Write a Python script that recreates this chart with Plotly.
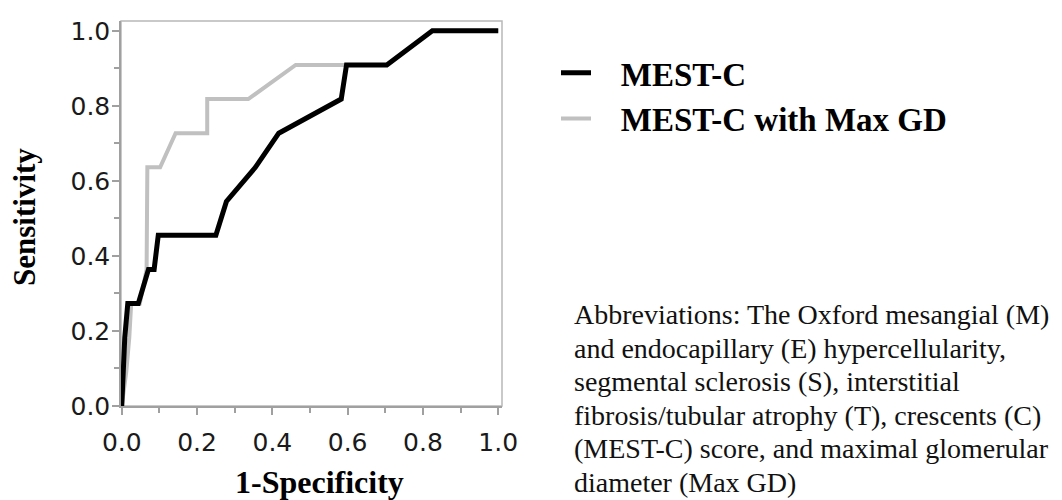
import plotly.graph_objects as go

# ---- data ----
fpr_mestc = [0, 0.003, 0.008, 0.016, 0.044, 0.071, 0.086, 0.097, 0.250, 0.278,
             0.355, 0.417, 0.583, 0.597, 0.704, 0.825, 1.0]
tpr_mestc = [0, 0.091, 0.182, 0.273, 0.273, 0.364, 0.364, 0.455, 0.455, 0.545,
             0.636, 0.727, 0.818, 0.909, 0.909, 1.0, 1.0]

fpr_gd = [0, 0.012, 0.020, 0.025, 0.048, 0.066, 0.068, 0.102, 0.143, 0.227,
          0.227, 0.336, 0.462, 0.600, 0.704, 0.825, 1.0]
tpr_gd = [0, 0.091, 0.182, 0.273, 0.273, 0.364, 0.636, 0.636, 0.727, 0.727,
          0.818, 0.818, 0.909, 0.909, 0.909, 1.0, 1.0]

series_names = ["MEST-C", "MEST-C with Max GD"]
x_title = "1-Specificity"
y_title = "Sensitivity"
abbrev_lines = [
    "Abbreviations: The Oxford mesangial (M)",
    "and endocapillary (E) hypercellularity,",
    "segmental sclerosis (S), interstitial",
    "fibrosis/tubular atrophy (T), crescents (C)",
    "(MEST-C) score, and maximal glomerular",
    "diameter (Max GD)",
]

# page body has an 8px margin, so the figure is drawn 8px smaller and offset
OFF = 8
W, H = 1062 - OFF, 500 - OFF
L, T = 121 - OFF, 17 - OFF
R = W - (502 - OFF)
B = H - (406 - OFF)
PW, PH = W - L - R, H - T - B


def px(xr):
    return (xr - OFF - L) / PW


def py(yr):
    return (H - B - (yr - OFF)) / PH


serif = "Liberation Serif"
sans = "DejaVu Sans"
axis_gray = "#a0a0a0"
GAP = "\u00a0\u00a0\u00a0"

fig = go.Figure()
fig.add_trace(go.Scatter(
    x=fpr_gd, y=tpr_gd, mode="lines",
    name="<b>%s%s</b>" % (GAP, series_names[1]),
    line=dict(color="#c0c0c0", width=4), legendgroup="b", legendrank=2))
fig.add_trace(go.Scatter(
    x=fpr_mestc, y=tpr_mestc, mode="lines",
    name="<b>%s%s</b>" % (GAP, series_names[0]),
    line=dict(color="#000000", width=5), legendgroup="a", legendrank=1))

axis_common = dict(
    showgrid=False, zeroline=False, showline=True, linecolor=axis_gray, linewidth=1.5,
    ticks="outside", ticklen=7, tickwidth=1.5, tickcolor=axis_gray,
    dtick=0.2, tick0=0, tickformat=".1f",
    tickfont=dict(family=sans, size=25, color="#1a1a1a"),
    minor=dict(dtick=0.1, tick0=0, ticks="outside", ticklen=5, tickwidth=1.5,
               tickcolor=axis_gray, showgrid=False),
)
fig.update_xaxes(range=[-0.002, 1.01], ticklabelstandoff=6, **axis_common)
fig.update_yaxes(range=[0, 1.026], ticklabelstandoff=-3, **axis_common)

annotations = [
    dict(text="<b>%s</b>" % y_title, xref="paper", yref="paper", x=px(25), y=py(215),
         textangle=-90, showarrow=False, xanchor="center", yanchor="middle",
         font=dict(family=serif, size=31, color="#000")),
    dict(text="<b>%s</b>" % x_title, xref="paper", yref="paper", x=px(319), y=py(483),
         showarrow=False, xanchor="center", yanchor="middle",
         font=dict(family=serif, size=32, color="#000")),
]
for i, line in enumerate(abbrev_lines):
    annotations.append(dict(
        text=line, xref="paper", yref="paper", x=px(572), y=py(314 + 33.8 * i),
        showarrow=False, xanchor="left", yanchor="middle",
        font=dict(family=serif, size=28, color="#111")))

fig.update_layout(
    width=W, height=H,
    margin=dict(l=L, r=R, t=T, b=B),
    paper_bgcolor="white", plot_bgcolor="white",
    showlegend=True,
    legend=dict(x=px(556), y=py(41), xanchor="left", yanchor="top",
                font=dict(family=serif, size=33, color="#000"),
                tracegroupgap=0, bgcolor="rgba(0,0,0,0)", borderwidth=0),
    annotations=annotations,
    shapes=[dict(type="rect", xref="paper", yref="paper", x0=0, y0=0, x1=1, y1=1,
                 line=dict(color="#b8b8b8", width=1.5), layer="below")],
)

fig.write_html("out.html")
